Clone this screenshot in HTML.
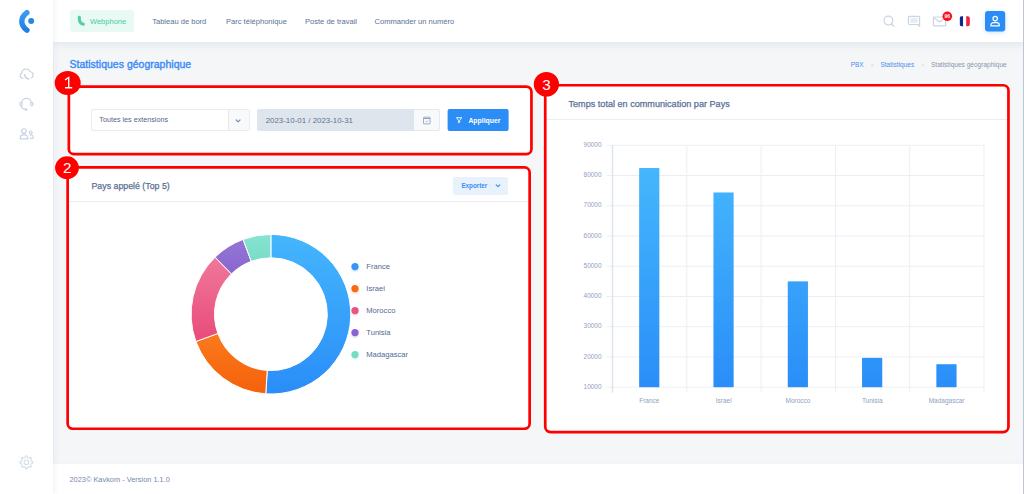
<!DOCTYPE html>
<html lang="fr">
<head>
<meta charset="utf-8">
<title>Statistiques géographique</title>
<style>
*{box-sizing:border-box;margin:0;padding:0}
html,body{width:1024px;height:494px;overflow:hidden}
body{font-family:"Liberation Sans",sans-serif;background:#f4f6f8;color:#5a6a85;position:relative}
.abs{position:absolute}
svg{position:absolute;left:0;top:0;overflow:visible}
svg text{font-family:"Liberation Sans",sans-serif}
/* sidebar */
#side{left:0;top:0;width:53px;height:494px;background:#fff;box-shadow:0 0 6px rgba(120,140,170,.18);z-index:5}
/* topbar */
#top{left:53px;top:0;width:971px;height:42px;background:#fff;box-shadow:0 2px 8px rgba(120,140,170,.16);z-index:4}
.nav{position:absolute;top:16.6px;font-size:7.55px;line-height:10px;color:#5a7096;white-space:nowrap}
#wp{left:69.5px;top:10px;width:64.8px;height:21.8px;background:#e9f9f4;border-radius:3px;z-index:6}
#wp span{position:absolute;left:20.5px;top:6.6px;font-size:7.5px;line-height:10px;color:#3fcf9d}
/* title */
#title{left:69.5px;top:58px;font-size:10.45px;line-height:14px;color:#3b8cf5;white-space:nowrap;-webkit-text-stroke:.4px #3b8cf5;letter-spacing:.04px}
#crumb{right:17.3px;top:60px;font-size:6.55px;line-height:10px;color:#8b97ab;white-space:nowrap}
#crumb b{font-weight:normal;color:#4a90f0}
#crumb i{font-style:normal;color:#c5ccd8;margin:0 6.9px;font-size:5px}
/* cards */
.card{position:absolute;background:#fff}
.red{position:absolute;border:2px solid #ff0000;border-radius:6px;z-index:8}
.badge{position:absolute;width:24px;height:24px;border-radius:12px;background:#ff0000;color:#fff;font-size:17px;line-height:24px;text-align:center;z-index:9}
.hd{position:absolute;line-height:12px;color:#5a7096;white-space:nowrap;-webkit-text-stroke:.25px #5a7096}
.hr{position:absolute;height:1px;background:#e9eef4}
/* form */
#sel{left:91px;top:109px;width:159px;height:22px;border:1px solid #e7ecf3;border-radius:2px;background:#fff}
#sel span{position:absolute;left:7.3px;top:5.1px;font-size:7.2px;line-height:10px;color:#52658a;white-space:nowrap}
#sel em{position:absolute;left:136px;top:0;width:21px;height:20px;border-left:1px solid #e4e9f0;background:#f8fafc}
#date{left:257px;top:109px;width:183px;height:22px;border:1px solid #e4e9f0;border-radius:2px;background:#f7f9fb}
#date u{position:absolute;left:-1px;top:-1px;width:157px;height:22px;background:#dfe5ec;border-radius:2px 0 0 2px}
#date span{position:absolute;left:7.7px;top:6px;font-size:7.9px;line-height:10px;color:#62728f;white-space:nowrap}
#apply{left:447px;top:109px;width:60.7px;transform:translateX(.6px);height:22px;background:#2b8df5;border-radius:2px}
#apply span{position:absolute;left:20.8px;top:6.7px;font-size:6.9px;line-height:10px;font-weight:bold;color:#fff}
#exp{left:453.2px;top:177px;width:55.2px;height:17.5px;background:#e8f2fd;border-radius:2px}
#exp span{position:absolute;left:8.2px;top:3.900px;font-size:6.300px;line-height:10px;font-weight:bold;color:#3b8cf5}
.lg{font-size:7.6px;fill:#526a93}
.ax{font-size:6.5px;fill:#8fa1be}
/* footer */
#foot{left:53px;top:463px;transform:translateY(.6px);box-shadow:0 -1px 2px rgba(120,140,170,.07);width:971px;height:31px;background:#fff;z-index:3}
#foot span{position:absolute;left:16.5px;top:11px;font-size:7.4px;line-height:10px;color:#7489ab}
#edge{left:1023px;top:0;width:1px;height:494px;background:#bcc7d3;z-index:20}
</style>
</head>
<body>
<div id="side" class="abs"></div>
<div id="top" class="abs">
  <span class="nav" style="left:99.2px">Tableau de bord</span>
  <span class="nav" style="left:173px">Parc téléphonique</span>
  <span class="nav" style="left:252px">Poste de travail</span>
  <span class="nav" style="left:321.5px">Commander un numéro</span>
</div>
<div id="wp" class="abs"><span>Webphone</span></div>

<div id="title" class="abs">Statistiques géographique</div>
<div id="crumb" class="abs"><b>PBX</b><i>&gt;</i><b>Statistiques</b><i>&gt;</i>Statistiques géographique</div>

<!-- card 1 -->
<div class="card" style="left:69px;top:87px;width:461px;height:66px"></div>
<div id="sel" class="abs"><span>Toutes les extensions</span><em></em></div>
<div id="date" class="abs"><u></u><span>2023-10-01 / 2023-10-31</span></div>
<div id="apply" class="abs"><span>Appliquer</span></div>
<!-- card 2 -->
<div class="card" style="left:69px;top:168px;width:461px;height:261px"></div>
<div class="hd" style="left:91.5px;top:180px;font-size:8.8px">Pays appelé (Top 5)</div>
<div id="exp" class="abs"><span>Exporter</span></div>
<div class="hr" style="left:69px;top:201px;width:461px"></div>
<!-- card 3 -->
<div class="card" style="left:546px;top:87px;width:461px;height:344px"></div>
<div class="hd" style="left:568.5px;top:98px;font-size:9.1px">Temps total en communication par Pays</div>
<div class="hr" style="left:546px;top:119px;width:461px"></div>

<!-- charts + icons that live in the content layer -->
<svg width="1024" height="494" viewBox="0 0 1024 494" style="z-index:2">
<defs>
<linearGradient id="gB" x1="0" y1="0" x2="0" y2="1"><stop offset="0" stop-color="#45b6fd"/><stop offset="1" stop-color="#2a8df8"/></linearGradient>
<linearGradient id="gO" x1="0" y1="0" x2="0" y2="1"><stop offset="0" stop-color="#fa7a1c"/><stop offset="1" stop-color="#f5610a"/></linearGradient>
<linearGradient id="gP" x1="0" y1="0" x2="0" y2="1"><stop offset="0" stop-color="#f0789a"/><stop offset="1" stop-color="#e84b7a"/></linearGradient>
<linearGradient id="gV" x1="0" y1="0" x2="0" y2="1"><stop offset="0" stop-color="#9476d6"/><stop offset="1" stop-color="#8a66cf"/></linearGradient>
<linearGradient id="gT" x1="0" y1="0" x2="0" y2="1"><stop offset="0" stop-color="#86e4d0"/><stop offset="1" stop-color="#7adcc6"/></linearGradient>
<filter id="bl" x="-100%" y="-100%" width="300%" height="300%"><feGaussianBlur stdDeviation="1.1"/></filter>
<linearGradient id="gBar" x1="0" y1="144.7" x2="0" y2="387" gradientUnits="userSpaceOnUse"><stop offset="0" stop-color="#48bbfd"/><stop offset="1" stop-color="#2a8ef8"/></linearGradient>
</defs>
<path d="M270.90 234.40A79.8 79.8 0 1 1 265.75 393.83L267.26 370.48A56.4 56.4 0 1 0 270.90 257.80Z" fill="url(#gB)" stroke="#fff" stroke-width="1"/>
<path d="M265.75 393.83A79.8 79.8 0 0 1 195.91 341.49L217.90 333.49A56.4 56.4 0 0 0 267.26 370.48Z" fill="url(#gO)" stroke="#fff" stroke-width="1"/>
<path d="M195.91 341.49A79.8 79.8 0 0 1 215.07 257.19L231.44 273.90A56.4 56.4 0 0 0 217.90 333.49Z" fill="url(#gP)" stroke="#fff" stroke-width="1"/>
<path d="M215.07 257.19A79.8 79.8 0 0 1 243.08 239.40L251.24 261.34A56.4 56.4 0 0 0 231.44 273.90Z" fill="url(#gV)" stroke="#fff" stroke-width="1"/>
<path d="M243.08 239.40A79.8 79.8 0 0 1 270.90 234.40L270.90 257.80A56.4 56.4 0 0 0 251.24 261.34Z" fill="url(#gT)" stroke="#fff" stroke-width="1"/>
<circle cx="355" cy="267.80" r="3.4" fill="#3596f7" opacity=".35" filter="url(#bl)"/>
<circle cx="355" cy="266.60" r="3.6" fill="#3596f7"/>
<text x="366.3" y="269.10" class="lg">France</text>
<circle cx="355" cy="289.80" r="3.4" fill="#f76b12" opacity=".35" filter="url(#bl)"/>
<circle cx="355" cy="288.60" r="3.6" fill="#f76b12"/>
<text x="366.3" y="291.10" class="lg">Israel</text>
<circle cx="355" cy="311.80" r="3.4" fill="#ea5480" opacity=".35" filter="url(#bl)"/>
<circle cx="355" cy="310.60" r="3.6" fill="#ea5480"/>
<text x="366.3" y="313.10" class="lg">Morocco</text>
<circle cx="355" cy="333.80" r="3.4" fill="#8a63d2" opacity=".35" filter="url(#bl)"/>
<circle cx="355" cy="332.60" r="3.6" fill="#8a63d2"/>
<text x="366.3" y="335.10" class="lg">Tunisia</text>
<circle cx="355" cy="355.80" r="3.4" fill="#73dcc3" opacity=".35" filter="url(#bl)"/>
<circle cx="355" cy="354.60" r="3.6" fill="#73dcc3"/>
<text x="366.3" y="357.10" class="lg">Madagascar</text>
<line x1="606.5" y1="145.30" x2="984.0" y2="145.30" stroke="#ebeff5" stroke-width="1"/>
<text x="601.6" y="147.00" text-anchor="end" class="ax">90000</text>
<line x1="606.5" y1="175.54" x2="984.0" y2="175.54" stroke="#ebeff5" stroke-width="1"/>
<text x="601.6" y="177.24" text-anchor="end" class="ax">80000</text>
<line x1="606.5" y1="205.78" x2="984.0" y2="205.78" stroke="#ebeff5" stroke-width="1"/>
<text x="601.6" y="207.47" text-anchor="end" class="ax">70000</text>
<line x1="606.5" y1="236.01" x2="984.0" y2="236.01" stroke="#ebeff5" stroke-width="1"/>
<text x="601.6" y="237.71" text-anchor="end" class="ax">60000</text>
<line x1="606.5" y1="266.25" x2="984.0" y2="266.25" stroke="#ebeff5" stroke-width="1"/>
<text x="601.6" y="267.95" text-anchor="end" class="ax">50000</text>
<line x1="606.5" y1="296.49" x2="984.0" y2="296.49" stroke="#ebeff5" stroke-width="1"/>
<text x="601.6" y="298.19" text-anchor="end" class="ax">40000</text>
<line x1="606.5" y1="326.73" x2="984.0" y2="326.73" stroke="#ebeff5" stroke-width="1"/>
<text x="601.6" y="328.43" text-anchor="end" class="ax">30000</text>
<line x1="606.5" y1="356.96" x2="984.0" y2="356.96" stroke="#ebeff5" stroke-width="1"/>
<text x="601.6" y="358.66" text-anchor="end" class="ax">20000</text>
<line x1="606.5" y1="387.20" x2="984.0" y2="387.20" stroke="#ebeff5" stroke-width="1"/>
<text x="601.6" y="388.90" text-anchor="end" class="ax">10000</text>
<line x1="612.50" y1="145.3" x2="612.50" y2="392.59999999999997" stroke="#dde3ec" stroke-width="1.4"/>
<line x1="686.80" y1="145.3" x2="686.80" y2="392.59999999999997" stroke="#ebeff5" stroke-width="1"/>
<line x1="761.10" y1="145.3" x2="761.10" y2="392.59999999999997" stroke="#ebeff5" stroke-width="1"/>
<line x1="835.40" y1="145.3" x2="835.40" y2="392.59999999999997" stroke="#ebeff5" stroke-width="1"/>
<line x1="909.70" y1="145.3" x2="909.70" y2="392.59999999999997" stroke="#ebeff5" stroke-width="1"/>
<line x1="984.00" y1="145.3" x2="984.00" y2="392.59999999999997" stroke="#ebeff5" stroke-width="1"/>
<rect x="639.15" y="167.98" width="20.2" height="219.22" fill="url(#gBar)"/>
<text x="649.35" y="403.4" text-anchor="middle" class="ax">France</text>
<rect x="713.45" y="192.47" width="20.2" height="194.73" fill="url(#gBar)"/>
<text x="723.65" y="403.4" text-anchor="middle" class="ax">Israel</text>
<rect x="787.75" y="281.37" width="20.2" height="105.83" fill="url(#gBar)"/>
<text x="797.95" y="403.4" text-anchor="middle" class="ax">Morocco</text>
<rect x="862.05" y="357.87" width="20.2" height="29.33" fill="url(#gBar)"/>
<text x="872.25" y="403.4" text-anchor="middle" class="ax">Tunisia</text>
<rect x="936.35" y="364.22" width="20.2" height="22.98" fill="url(#gBar)"/>
<text x="946.55" y="403.4" text-anchor="middle" class="ax">Madagascar</text>
<!-- select chevron -->
<path d="M236.200 120l1.900 1.900 1.900-1.900" fill="none" stroke="#7b8fb1" stroke-width="1.200" stroke-linecap="round" stroke-linejoin="round"/>
<!-- calendar icon -->
<g fill="none" stroke="#8d9bb8" stroke-width=".8">
<rect x="423.500" y="117.200" width="6.600" height="6.700" rx=".5"/>
<path d="M423.500 118.500h6.600" stroke-width=".9"/>
<path d="M425.600 121.300l.9.800 1.500-1.500" stroke-width=".7"/>
</g>
<!-- funnel icon -->
<path d="M456.500 117.700h5.200l-2 2.700v1.800l-1.200.5v-2.300z" fill="none" stroke="#fff" stroke-width=".9" stroke-linejoin="round"/>
<!-- export chevron -->
<path d="M496.200 184.900l1.800 1.800 1.800-1.800" fill="none" stroke="#3b8cf5" stroke-width="1.200" stroke-linecap="round" stroke-linejoin="round"/>
</svg>

<!-- chrome icons (above sidebar/topbar) -->
<svg width="1024" height="494" viewBox="0 0 1024 494" style="z-index:7">
<defs>
<linearGradient id="gL" x1="0" y1="0" x2="0" y2="1"><stop offset="0" stop-color="#3a9af8"/><stop offset="1" stop-color="#1f7fe8"/></linearGradient>
</defs>
<!-- logo -->
<path d="M26.9 12.7Q21.8 16.6 21.8 21.4Q21.8 26.2 26.9 30.1" fill="none" stroke="url(#gL)" stroke-width="5.4" stroke-linecap="round"/>
<circle cx="31.2" cy="21.1" r="3" fill="#2587ee"/>
<!-- sidebar icons -->
<g fill="none" stroke="#c6d3e3" stroke-width="1.15" stroke-linecap="round" stroke-linejoin="round">
<path d="M23 78.300h-.300a2.700 2.700 0 0 1 -.900-5.200a4.300 4.300 0 0 1 8.300-1.300a3.200 3.200 0 0 1 1.100 6.100"/>
<path d="M24.800 74.600q-.100 3.500 3.800 4.300" stroke-width="1.500"/>
<path d="M21.700 102.600a4.750 4.300 0 0 1 9.500 0"/>
<rect x="20" y="102.200" width="2.100" height="3.800" rx=".9"/>
<rect x="30.800" y="102.200" width="2.100" height="3.800" rx=".9"/>
<path d="M21.300 106.200q.5 2.900 4 3.300"/>
<circle cx="26" cy="109.600" r=".8"/>
<circle cx="23.900" cy="131" r="2.300"/>
<path d="M20.200 138.800v-1a3 3 0 0 1 3-3h1.600a3 3 0 0 1 3 3v1z"/>
<circle cx="30.800" cy="132.400" r="1.400"/>
<path d="M30.200 135h.900a2 2 0 0 1 2 2v1.300h-2.700"/>
</g>
<!-- gear -->
<g fill="none" stroke="#d3deea" stroke-width="1.1" stroke-linejoin="round">
<circle cx="26.4" cy="462.3" r="2.3"/>
<path d="M31.28 461.23L32.75 461.50L32.75 463.10L31.28 463.37L30.61 465.00L31.46 466.22L30.32 467.36L29.10 466.51L27.47 467.18L27.20 468.65L25.60 468.65L25.33 467.18L23.70 466.51L22.48 467.36L21.34 466.22L22.19 465.00L21.52 463.37L20.05 463.10L20.05 461.50L21.52 461.23L22.19 459.60L21.34 458.38L22.48 457.24L23.70 458.09L25.33 457.42L25.60 455.95L27.20 455.95L27.47 457.42L29.10 458.09L30.32 457.24L31.46 458.38L30.61 459.60Z"/>
</g>
<!-- webphone handset -->
<path d="M79.35 17.4C79.1 21.400 80.400 23.700 83.300 24.300" fill="none" stroke="#55cca8" stroke-width="3.100" stroke-linecap="round"/>
<!-- top-right icons -->
<g fill="none" stroke="#c9d4e2" stroke-width="1.2" stroke-linecap="round" stroke-linejoin="round">
<circle cx="888.4" cy="20.6" r="4.4"/>
<path d="M891.5 24l2.300 2.300"/>
<path d="M909.6 16.300h8.800a1.200 1.200 0 0 1 1.200 1.200v8.800l-2-1.800h-8a1.200 1.200 0 0 1 -1.200-1.200v-5.800a1.200 1.200 0 0 1 1.200-1.200z"/>
<path d="M910.600 18.800h6.800M910.600 20.400h6.800M910.600 22h6.800" stroke-width=".7"/>
<rect x="933.4" y="17" width="12.200" height="8.800" rx=".8"/>
<path d="M933.8 17.600l5.700 4.400l5.700-4.400"/>
</g>
<circle cx="947.3" cy="16.300" r="4.800" fill="#f8101f"/>
<text x="947.3" y="18.100" text-anchor="middle" font-size="5" font-weight="bold" fill="#fff">96</text>
<!-- flag -->
<clipPath id="fc"><rect x="959.6" y="16.200" width="10.200" height="10" rx="2"/></clipPath>
<g clip-path="url(#fc)">
<rect x="959.6" y="16" width="3.600" height="11" fill="#0b2a8c"/>
<rect x="963.2" y="16" width="3" height="11" fill="#fff"/>
<rect x="966.2" y="16" width="3.800" height="11" fill="#ee2440"/>
</g>
<!-- user button -->
<rect x="985" y="11" width="20.200" height="20.600" rx="3" fill="#2b8df5" filter="url(#sh)"/>
<filter id="sh" x="-50%" y="-50%" width="200%" height="200%"><feDropShadow dx="0" dy="1" stdDeviation="2" flood-color="#2b8df5" flood-opacity=".25"/></filter>
<g fill="none" stroke="#fff" stroke-width="1.2">
<circle cx="995.2" cy="18.600" r="2.200"/>
<path d="M990.900 25.800v-.6a2.600 2.600 0 0 1 2.600-2.600h3.200a2.600 2.600 0 0 1 2.600 2.600v.6z" stroke-linejoin="round"/>
</g>
</svg>

<!-- red annotations -->
<svg width="1024" height="494" viewBox="0 0 1024 494" style="z-index:9">
<g fill="none" stroke="#ff0000" stroke-width="2.7">
<rect x="68.85" y="86.55" width="462.6" height="67.6" rx="5.2"/>
<rect x="67.65" y="167.35" width="462" height="261.4" rx="5.2"/>
<rect x="545.25" y="85.25" width="463.2" height="346.8" rx="5.2"/>
</g>
<ellipse cx="67.7" cy="83.1" rx="13" ry="12" fill="#ff0000"/>
<ellipse cx="67" cy="167.7" rx="11.9" ry="11.4" fill="#ff0000"/>
<ellipse cx="546.4" cy="84.2" rx="12.6" ry="12.3" fill="#ff0000"/>
<path d="M65 79.9l3.700-2.400v10.200M65 87.700h7.200" fill="none" stroke="#fff" stroke-width="1.400"/>
<text x="67.300" y="173.100" text-anchor="middle" font-size="15.200" fill="#fff">2</text>
<text x="546.500" y="90.100" text-anchor="middle" font-size="15.200" fill="#fff">3</text>
</svg>

<div id="foot" class="abs"><span>2023© Kavkom - Version 1.1.0</span></div>
<div id="edge" class="abs"></div>
</body>
</html>
